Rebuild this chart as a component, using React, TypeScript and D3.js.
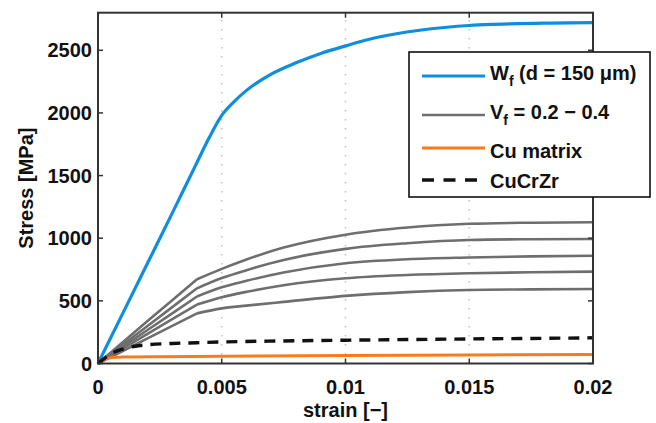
import React from 'react';
import * as d3 from 'd3';

// axis ticks
const strainTicks = [0, 0.005, 0.01, 0.015, 0.02];
const stressTicks = [0, 500, 1000, 1500, 2000, 2500];
const gridStrains = [0.005, 0.01, 0.015];

// W fibre (d = 150 um)
const wfStrain = [0, 0.001, 0.002, 0.003, 0.004, 0.0045, 0.005, 0.0055, 0.006, 0.007, 0.008, 0.009, 0.01, 0.011, 0.012, 0.013, 0.014, 0.015, 0.016, 0.017, 0.018, 0.019, 0.02];
const wfStress = [0, 400, 800, 1200, 1605, 1805, 1980, 2090, 2180, 2310, 2400, 2475, 2535, 2590, 2630, 2660, 2682, 2698, 2707, 2713, 2716, 2719, 2720];

// V_f = 0.2 .. 0.4 composites (knee at index 4, strain 0.004)
const vfStrain = [0, 0.001, 0.002, 0.003, 0.004, 0.005, 0.006, 0.0075, 0.01, 0.0125, 0.015, 0.0175, 0.02];
const vfStress = [
  [0, 170, 340, 505, 672, 755, 830, 925, 1028, 1085, 1115, 1124, 1127],
  [0, 150, 300, 450, 600, 682, 745, 826, 915, 960, 986, 992, 994],
  [0, 133, 267, 400, 535, 608, 660, 726, 800, 832, 846, 855, 860],
  [0, 118, 236, 354, 470, 528, 572, 625, 680, 706, 720, 728, 733],
  [0, 100, 200, 300, 400, 440, 462, 492, 540, 570, 587, 592, 595],
];
const vfKnee = 4;

// Cu matrix
const cuStrain = [0, 0.0003, 0.0006, 0.001, 0.005, 0.01, 0.015, 0.02];
const cuStress = [0, 35, 48, 52, 58, 64, 68, 71];

// CuCrZr
const czStrain = [0, 0.0005, 0.001, 0.0015, 0.002, 0.003, 0.004, 0.005, 0.0075, 0.01, 0.0125, 0.015, 0.0175, 0.02];
const czStress = [0, 75, 115, 138, 150, 160, 166, 172, 180, 186, 191, 196, 200, 205];

const W = 656;
const H = 423;
const FONT = '"Liberation Sans", Arial, sans-serif';

const BLUE = '#0f8ddf';
const GRAY = '#6e6e6e';
const ORANGE = '#fb7b1b';

export default function App() {
  const x = d3.scaleLinear().domain([0, 0.02]).range([98, 593]);
  const y = d3.scaleLinear().domain([0, 2800]).range([363.5, 12.7]);

  const mk = (xs: number[], ys: number[], curve: d3.CurveFactory = d3.curveMonotoneX) =>
    d3.line<number>().x((_, i) => x(xs[i])).y((v) => y(v)).curve(curve)(ys) || '';

  // gray curves: straight rise to the knee, smooth hardening after it
  const vfPath = (s: number[]) =>
    mk(vfStrain.slice(0, vfKnee + 1), s.slice(0, vfKnee + 1), d3.curveLinear) +
    mk(vfStrain.slice(vfKnee), s.slice(vfKnee));

  const [x0, x1] = x.range();
  const [y0, y1] = y.range();
  const tickLen = 5;

  // legend layout
  const lx = 409, ly = 52, lw = 241, lh = 145;
  const rowY = [76, 115, 148, 180];

  return (
    <svg width={W} height={H} style={{ position: 'absolute', left: 0, top: 0, background: '#fff' }}
      fontFamily={FONT} fontWeight="bold">
      <rect width={W} height={H} fill="#fff" />

      {/* vertical dotted grid */}
      {gridStrains.map((s) => (
        <line key={s} x1={x(s)} x2={x(s)} y1={y0} y2={y1} stroke="#c4c4c4" strokeWidth={1.6}
          strokeDasharray="1.5,7.5" />
      ))}

      {/* curves */}
      <path d={mk(wfStrain, wfStress)} fill="none" stroke={BLUE} strokeWidth={3.2} strokeLinejoin="round" />
      {vfStress.map((s, i) => (
        <path key={i} d={vfPath(s)} fill="none" stroke={GRAY} strokeWidth={2.6} strokeLinejoin="round" />
      ))}
      <path d={mk(cuStrain, cuStress)} fill="none" stroke={ORANGE} strokeWidth={3} strokeLinejoin="round" />
      <path d={mk(czStrain, czStress)} fill="none" stroke="#111" strokeWidth={3.4} strokeDasharray="11,8" />

      {/* axes box */}
      <rect x={x0} y={y1} width={x1 - x0} height={y0 - y1} fill="none" stroke="#333" strokeWidth={2} />
      {strainTicks.map((s) => (
        <g key={s}>
          <line x1={x(s)} x2={x(s)} y1={y0} y2={y0 - tickLen} stroke="#333" strokeWidth={1.5} />
          <line x1={x(s)} x2={x(s)} y1={y1} y2={y1 + tickLen} stroke="#333" strokeWidth={1.5} />
          <text x={x(s)} y={394} textAnchor="middle" fontSize={20} fill="#111">{String(s)}</text>
        </g>
      ))}
      {stressTicks.map((v) => (
        <g key={v}>
          <line x1={x0} x2={x0 + tickLen} y1={y(v)} y2={y(v)} stroke="#333" strokeWidth={1.5} />
          <line x1={x1} x2={x1 - tickLen} y1={y(v)} y2={y(v)} stroke="#333" strokeWidth={1.5} />
          <text x={92} y={y(v)} dy="0.36em" textAnchor="end" fontSize={20} fill="#111">{v}</text>
        </g>
      ))}

      {/* axis titles */}
      <text x={(x0 + x1) / 2} y={417} textAnchor="middle" fontSize={20} fill="#111">strain [−]</text>
      <text transform={`translate(33,${(y0 + y1) / 2}) rotate(-90)`} textAnchor="middle" fontSize={20} fill="#111">
        Stress [MPa]
      </text>

      {/* legend */}
      <rect x={lx} y={ly} width={lw} height={lh} fill="#fff" stroke="#111" strokeWidth={1.6} />
      <line x1={422} x2={485} y1={rowY[0]} y2={rowY[0]} stroke={BLUE} strokeWidth={3.2} />
      <line x1={422} x2={485} y1={rowY[1]} y2={rowY[1]} stroke={GRAY} strokeWidth={2.6} />
      <line x1={422} x2={485} y1={rowY[2]} y2={rowY[2]} stroke={ORANGE} strokeWidth={3} />
      <line x1={422} x2={485} y1={rowY[3]} y2={rowY[3]} stroke="#111" strokeWidth={3.4} strokeDasharray="12,9.5" />
      <text x={490} y={80} fontSize={20} fill="#111">
        W<tspan fontSize={14} dy={6}>f</tspan><tspan dy={-6}> (d = 150 μm)</tspan>
      </text>
      <text x={490} y={119} fontSize={20} fill="#111">
        V<tspan fontSize={14} dy={6}>f</tspan><tspan dy={-6}> = 0.2 − 0.4</tspan>
      </text>
      <text x={490} y={158} fontSize={20} fill="#111">Cu matrix</text>
      <text x={490} y={188} fontSize={20} fill="#111">CuCrZr</text>
    </svg>
  );
}
